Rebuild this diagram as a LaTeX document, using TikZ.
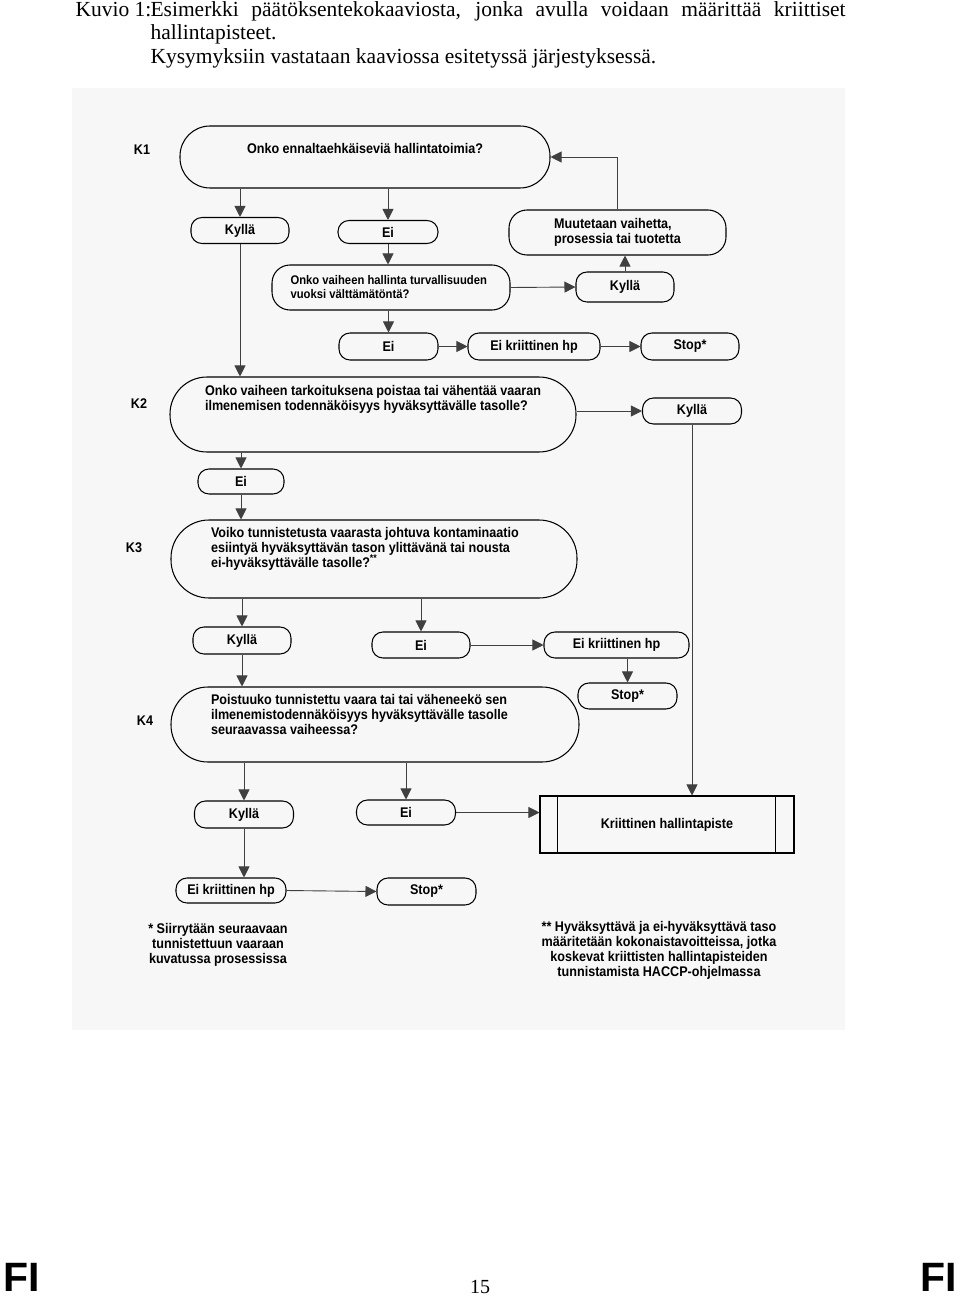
\documentclass[tikz,border=0pt]{standalone}
\usepackage{fontspec}
\setmainfont{Liberation Serif}
\newfontfamily\chartfont[FakeStretch=0.9]{Liberation Sans}
\newfontfamily\footerfont{Liberation Sans}
\usetikzlibrary{arrows.meta}

\newcommand\chartsize{\fontsize{14}{15}\selectfont}

\tikzset{every picture/.style={line width=1.05pt}}
\tikzset{
  pill/.style={draw, rectangle, rounded corners=11pt, minimum width=98pt, minimum height=26pt,
    inner sep=0pt, font=\chartfont\bfseries\chartsize},
  question/.style={draw, rectangle, rounded corners=#1, inner sep=0pt,
    font=\chartfont\bfseries\chartsize},
  flow/.style={draw=black!75, line width=0.9pt, -{Triangle[width=11pt,length=11pt]}},
  steplabel/.style={inner sep=0.75pt, font=\chartfont\bfseries\chartsize},
}

\begin{document}
\begin{tikzpicture}[x=1pt,y=1pt,yscale=-1,xscale=1]
\useasboundingbox (0,0) rectangle (960,1297);

%Shape: scanned sheet
\fill[black!3] (72,88) rectangle (845,1030);

% Text Node: caption
\node[anchor=base west, inner sep=0pt, font=\fontsize{21.5}{24}\selectfont] (capnum) at (75,17) {Kuvio 1:};
\node[anchor=base west, inner sep=0pt, font=\fontsize{21.5}{24}\selectfont] (capline1) at (150,17)
  {\makebox[695pt][s]{Esimerkki päätöksentekokaaviosta, jonka avulla voidaan määrittää kriittiset}};
\node[anchor=base west, inner sep=0pt, font=\fontsize{21.5}{24}\selectfont] (capline2) at (150,40) {hallintapisteet.};
\node[anchor=base west, inner sep=0pt, font=\fontsize{21.5}{24}\selectfont] (capline3) at (150,64) {Kysymyksiin vastataan kaaviossa esitetyssä järjestyksessä.};

% Text Node: step labels
\node[steplabel] (k1) at (142,150) {K1};
\node[steplabel] (k2) at (139,404) {K2};
\node[steplabel] (k3) at (134,548) {K3};
\node[steplabel] (k4) at (145,721) {K4};

%Shape: K1
\node[question=30pt, minimum width=370pt, minimum height=62pt] (q1) at (365,157)
  {\parbox[c][28pt][t]{300pt}{\centering Onko ennaltaehkäiseviä hallintatoimia?}};
\node[pill] (kyl1) at (240,230.5) {Kyllä};
\node[pill, minimum width=100pt, minimum height=23pt] (ei1) at (388,232) {Ei};
\node[pill, rounded corners=18pt, minimum width=217pt, minimum height=45pt, align=left] (muut) at (617.5,232.5)
  {Muutetaan vaihetta,\\prosessia tai tuotetta};
\node[pill, rounded corners=18pt, minimum width=238pt, minimum height=45pt, align=left,
  font=\chartfont\bfseries\fontsize{12.5}{14}\selectfont] (q1b) at (391,287.5)
  {Onko vaiheen hallinta turvallisuuden\\vuoksi välttämätöntä?\hspace*{82pt}};
\node[pill, minimum height=30pt] (kyl1b) at (625,287) {Kyllä};
\node[pill, minimum width=99pt, minimum height=27pt] (ei1b) at (388.5,346.5) {Ei};
\node[pill, minimum width=132pt, minimum height=27pt] (eikr1) at (534,346.5) {Ei kriittinen hp};
\node[pill, minimum height=27pt] (stop1) at (690,346.5) {Stop*};

%Shape: K2
\node[question=37pt, minimum width=406pt, minimum height=75pt] (q2) at (373,414.5)
  {\parbox[c][59pt][t]{336pt}{Onko vaiheen tarkoituksena poistaa tai vähentää vaaran\\ilmenemisen todennäköisyys hyväksyttävälle tasolle?}};
\node[pill, minimum width=99pt] (kyl2) at (692,411) {Kyllä};
\node[pill, minimum width=86pt, minimum height=25pt] (ei2) at (241,481.5) {Ei};

%Shape: K3
\node[question=38pt, minimum width=406pt, minimum height=78pt] (q3) at (374,559)
  {\parbox[c][64pt][t]{326pt}{Voiko tunnistetusta vaarasta johtuva kontaminaatio\\esiintyä hyväksyttävän tason ylittävänä tai nousta\\ei-hyväksyttävälle tasolle?\textsuperscript{**}}};
\node[pill, minimum height=27pt] (kyl3) at (242,640.5) {Kyllä};
\node[pill] (ei3) at (421,645) {Ei};
\node[pill, minimum width=145pt] (eikr3) at (616.5,645) {Ei kriittinen hp};
\node[pill, minimum width=99pt] (stop3) at (627.5,696) {Stop*};

%Shape: K4
\node[question=37pt, minimum width=408pt, minimum height=75pt] (q4) at (375,724.5)
  {\parbox[c][61pt][t]{328pt}{Poistuuko tunnistettu vaara tai tai väheneekö sen\\ilmenemistodennäköisyys hyväksyttävälle tasolle\\seuraavassa vaiheessa?}};
\node[pill, minimum width=99pt, minimum height=27pt] (kyl4) at (244,814.5) {Kyllä};
\node[pill, minimum width=99pt, minimum height=25pt] (ei4) at (406,812.5) {Ei};
\node[pill, minimum width=110pt, minimum height=25pt] (eikr4) at (231,890.5) {Ei kriittinen hp};
\node[pill, minimum width=99pt, minimum height=27pt] (stop4) at (426.5,891.5) {Stop*};

%Shape: critical control point
\node[draw, rectangle, minimum width=254pt, minimum height=57pt, inner sep=0pt,
  font=\chartfont\bfseries\chartsize] (khp) at (667,824.5) {Kriittinen hallintapiste};
\draw[line width=0.8pt] ([xshift=18pt]khp.north west) -- ([xshift=18pt]khp.south west);
\draw[line width=0.8pt] ([xshift=-19pt]khp.north east) -- ([xshift=-19pt]khp.south east);

%Straight Lines
\draw[flow] (kyl1 |- q1.south) -- (kyl1.north);
\draw[flow] (ei1 |- q1.south) -- (ei1.north);
\draw[flow] (ei1.south) -- (ei1.south |- q1b.north);
\draw[flow] (q1b.east) -- (kyl1b.west);
\draw[flow] (kyl1b.north) -- (kyl1b.north |- muut.south);
\draw[flow] (muut.north) -- (muut.north |- q1.east) -- (q1.east);
\draw[flow] (ei1b |- q1b.south) -- (ei1b.north);
\draw[flow] (ei1b.east) -- (eikr1.west);
\draw[flow] (eikr1.east) -- (stop1.west);
\draw[flow] (kyl1.south) -- (kyl1.south |- q2.north);
\draw[flow] (q2.east |- kyl2) -- (kyl2.west);
\draw[flow] (kyl2.south) -- (kyl2.south |- khp.north);
\draw[flow] (ei2 |- q2.south) -- (ei2.north);
\draw[flow] (ei2.south) -- (ei2.south |- q3.north);
\draw[flow] (kyl3 |- q3.south) -- (kyl3.north);
\draw[flow] (ei3 |- q3.south) -- (ei3.north);
\draw[flow] (ei3.east) -- (eikr3.west);
\draw[flow] (stop3 |- eikr3.south) -- (stop3.north);
\draw[flow] (kyl3.south) -- (kyl3.south |- q4.north);
\draw[flow] (kyl4 |- q4.south) -- (kyl4.north);
\draw[flow] (ei4 |- q4.south) -- (ei4.north);
\draw[flow] (ei4.east) -- (ei4.east -| khp.west);
\draw[flow] (kyl4.south) -- (kyl4.south |- eikr4.north);
\draw[flow] (eikr4.east) -- (stop4.west);

% Text Node: footnotes
\node[steplabel, align=center] (note1) at (218,945) {* Siirrytään seuraavaan\\tunnistettuun vaaraan\\kuvatussa prosessissa};
\node[steplabel, align=center] (note2) at (659,950.5) {** Hyväksyttävä ja ei-hyväksyttävä taso\\määritetään kokonaistavoitteissa, jotka\\koskevat kriittisten hallintapisteiden\\tunnistamista HACCP-ohjelmassa};

% Text Node: page footer
\node[anchor=base west, inner sep=0pt, font=\footerfont\bfseries\fontsize{41}{41}\selectfont] (fileft) at (3,1291) {FI};
\node[anchor=base east, inner sep=0pt, font=\footerfont\bfseries\fontsize{41}{41}\selectfont] (firight) at (957,1291) {FI};
\node[anchor=base, inner sep=0pt, font=\fontsize{20}{20}\selectfont] (pagenum) at (480,1293) {15};

\end{tikzpicture}
\end{document}
